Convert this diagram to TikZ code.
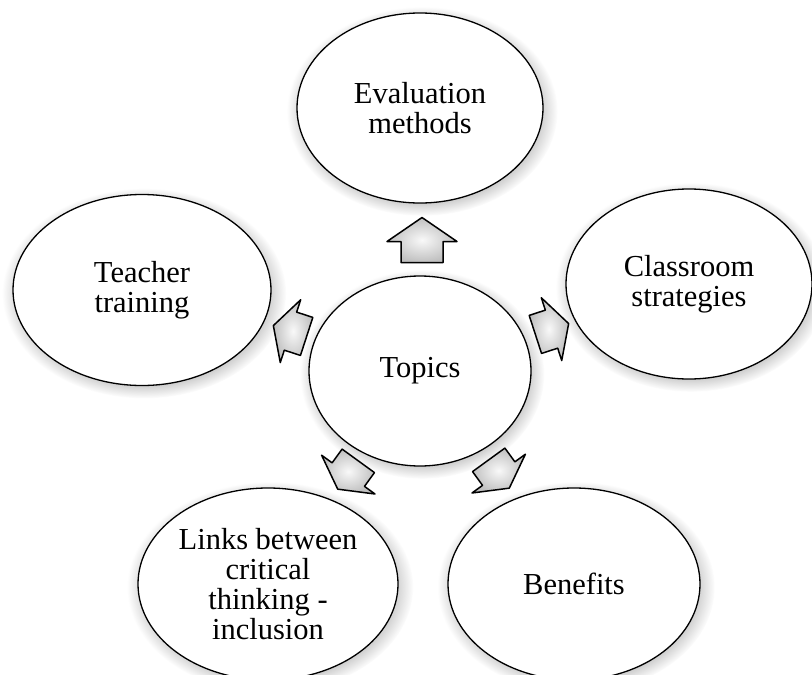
\documentclass[tikz,border=0pt]{standalone}
\usepackage{fontspec}
\setmainfont{Liberation Serif}
\usetikzlibrary{shapes.geometric,shadows,fadings}
\newcommand{\blockarr}[7]{% center, angle, head len, shaft len, head half, shaft half, name
  \begin{scope}[shift={#1},rotate=#2]
    \pgfmathsetmacro{\Lh}{(#3+#4)/2}
    \pgfmathsetmacro{\Lb}{(#3+#4)/2-#3}
    \draw[blockarrow] (\Lh,0) -- (\Lb,#5) -- (\Lb,#6) -- (-\Lh,#6) -- (-\Lh,-#6) -- (\Lb,-#6) -- (\Lb,-#5) -- cycle;
    \coordinate (#7) at (0,0);
  \end{scope}}
\begin{document}
\begin{tikzpicture}[x=1pt,y=-1pt,
  bubble/.style={ellipse, draw=black, line width=1.3pt, fill=white, inner sep=0pt,
    align=center, font=\fontsize{30.5}{30}\selectfont,
    circular drop shadow={shadow xshift=2pt, shadow yshift=-3pt, opacity=0.45, fill=black!50}},
  blockarrow/.style={draw=black, line width=1.5pt, line join=round,
    inner color=gray!5, outer color=gray!50}]
\useasboundingbox (0,0) rectangle (812,675);
\clip (0,0) rectangle (812,675);

\node[bubble, minimum width=246pt, minimum height=190pt] (eval) at (420,108) {Evaluation\\methods};
\node[bubble, minimum width=258pt, minimum height=191pt] (teacher) at (142,290) {Teacher\\training};
\node[bubble, minimum width=246pt, minimum height=190pt] (class) at (689,284) {Classroom\\strategies};
\node[bubble, minimum width=222pt, minimum height=190pt] (topics) at (420,371) {Topics};
\node[bubble, minimum width=260pt, minimum height=192pt] (links) at (268,584) {Links between\\critical\\thinking -\\inclusion};
\node[bubble, minimum width=252pt, minimum height=192pt] (benefits) at (574,584) {Benefits};

\blockarr{(422,240)}{90}{24}{21}{35}{21}{aeval}
\blockarr{(290,331)}{162}{18}{17}{33}{20}{ateacher}
\blockarr{(552,329)}{18}{18}{17}{33}{20}{aclass}
\blockarr{(348,475)}{-126}{18}{17}{33}{20}{alinks}
\blockarr{(499,474)}{-54}{18}{17}{33}{20}{abenefits}
\end{tikzpicture}
\end{document}
